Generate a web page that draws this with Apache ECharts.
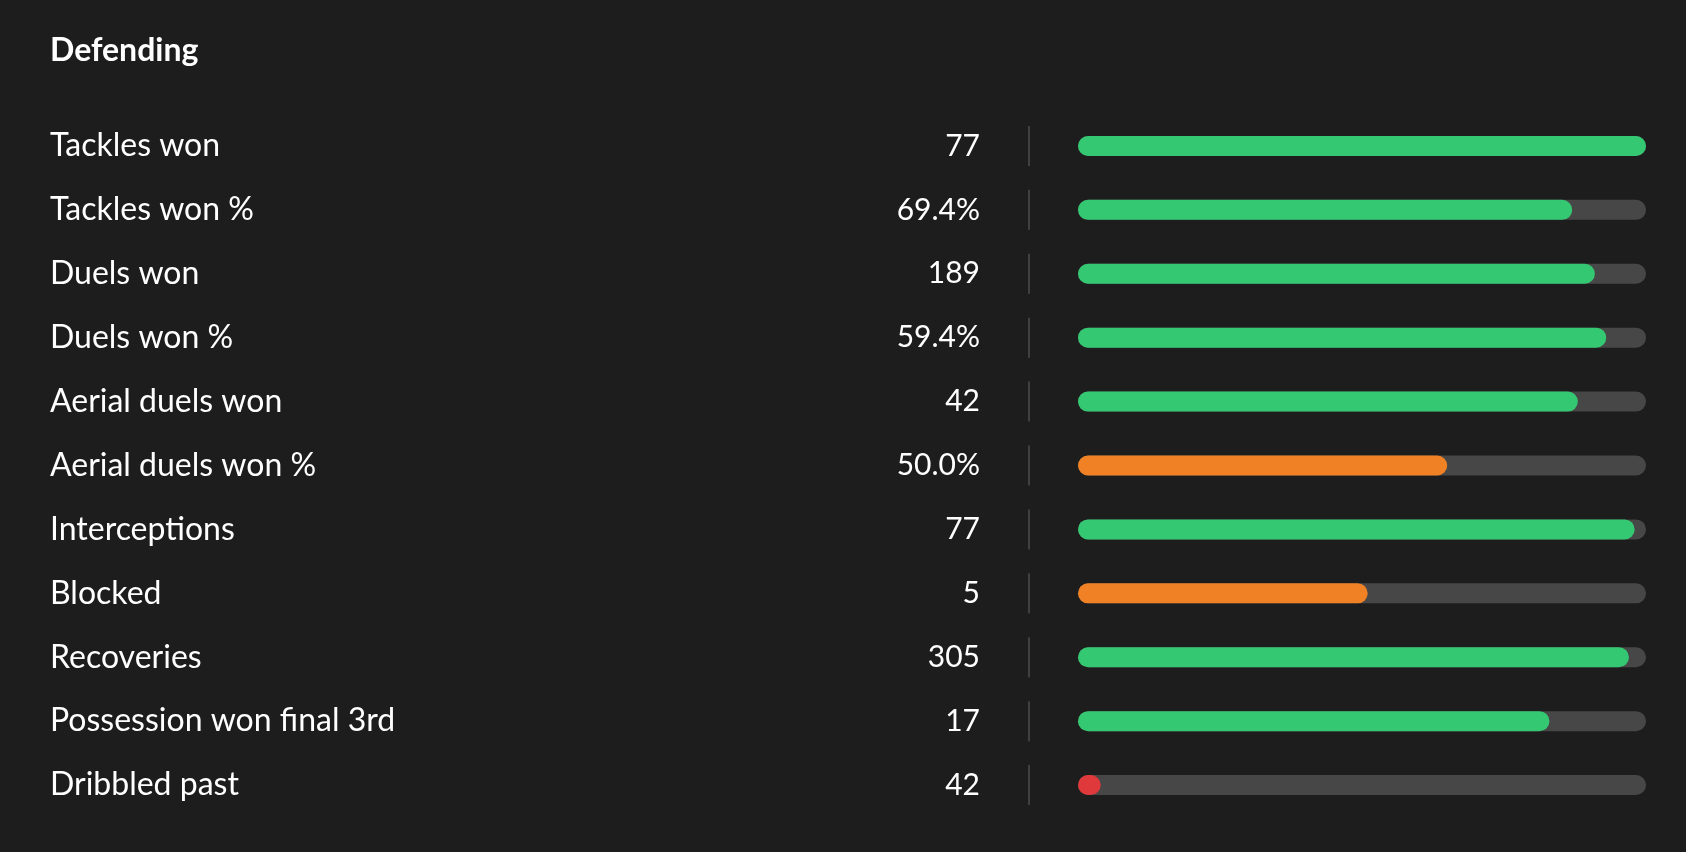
<!DOCTYPE html>
<html>
<head>
<meta charset="utf-8">
<style>
html,body{margin:0;padding:0;background:#1d1d1d;}
#chart{width:1686px;height:852px;}
</style>
<script src="https://cdn.jsdelivr.net/npm/echarts@6/dist/echarts.min.js"></script>
</head>
<body>
<div id="chart"></div>
<script>
const title = 'Defending';
const categories = ['Tackles won','Tackles won %','Duels won','Duels won %','Aerial duels won','Aerial duels won %','Interceptions','Blocked','Recoveries','Possession won final 3rd','Dribbled past'];
const valueLabels = ['77','69.4%','189','59.4%','42','50.0%','77','5','305','17','42'];
const percentiles = [100,87,91,93,88,65,98,51,97,83,4];

const GREEN = '#34c873', ORANGE = '#f08124', RED = '#e0393b';
function colorFor(v){ return v >= 70 ? GREEN : (v >= 30 ? ORANGE : RED); }

const FONT = 'Lato';
const chart = echarts.init(document.getElementById('chart'), null, {renderer:'canvas'});
const gridTop = 114, gridBottom = 35;
chart.setOption({
  backgroundColor: '#1d1d1d',
  animation: false,
  title: {
    text: title, left: 45, top: 30,
    textStyle: {color:'#ffffff', fontFamily: FONT, fontWeight: 'bold', fontSize: 32}
  },
  grid: [
    {left: 1078, right: 40, top: gridTop, bottom: gridBottom},
    {left: 1019, width: 20, top: gridTop, bottom: gridBottom}
  ],
  xAxis: [
    {gridIndex:0, type:'value', min:0, max:100, show:false},
    {gridIndex:1, type:'value', min:-1, max:1, show:false}
  ],
  yAxis: [
    {gridIndex:0, type:'category', data: categories, inverse:true, position:'left',
     axisLine:{show:false}, axisTick:{show:false}, splitLine:{show:false},
     axisLabel:{color:'#ffffff', fontFamily: FONT, fontSize:32, align:'left', margin:1028, padding:[4,0,0,0]}},
    {gridIndex:0, type:'category', data: valueLabels, inverse:true, position:'left',
     axisLine:{show:false}, axisTick:{show:false}, splitLine:{show:false},
     axisLabel:{color:'#ffffff', fontFamily: FONT, fontSize:30, align:'right', margin:98, padding:[4,0,0,0]}},
    {gridIndex:1, type:'category', data: categories, inverse:true, show:false}
  ],
  series: [
    {
      type:'bar', xAxisIndex:0, yAxisIndex:0, barWidth:20,
      data: percentiles.map(v => ({value:v, itemStyle:{color:colorFor(v)}})),
      itemStyle:{borderRadius:10},
      showBackground:true,
      backgroundStyle:{color:'#474747', borderRadius:10}
    },
    {
      type:'scatter', xAxisIndex:1, yAxisIndex:2, symbol:'rect', symbolSize:[2,40],
      itemStyle:{color:'#4a4a4a'},
      data: categories.map(c => [0, c])
    }
  ]
});
</script>
</body>
</html>
